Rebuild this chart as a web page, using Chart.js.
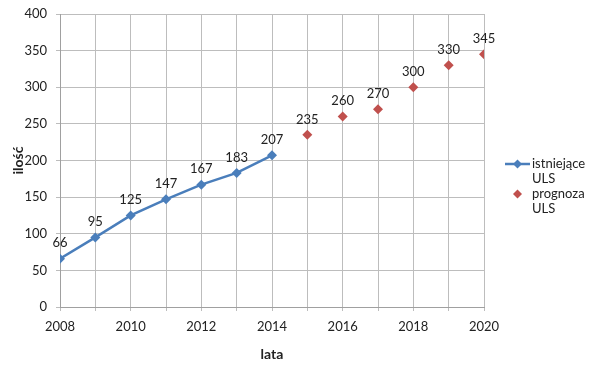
<!DOCTYPE html>
<html>
<head>
<meta charset="utf-8">
<script src="https://cdn.jsdelivr.net/npm/chart.js@4/dist/chart.umd.min.js"></script>
<style>
  html, body { margin: 0; padding: 0; background: #fff; }
  #wrap { width: 606px; height: 367px; position: relative; }
</style>
</head>
<body>
<div id="wrap"><canvas id="chart"></canvas></div>
<script>
// data
const yearsActual = [2008, 2009, 2010, 2011, 2012, 2013, 2014];
const valuesActual = [66, 95, 125, 147, 167, 183, 207];
const yearsForecast = [2015, 2016, 2017, 2018, 2019, 2020];
const valuesForecast = [235, 260, 270, 300, 330, 345];
const seriesNames = [['istniejące', 'ULS'], ['prognoza', 'ULS']];

const FONT = "Lato, 'Liberation Sans', sans-serif";
const BLUE = '#4a7ebb';
const RED = '#c0504d';

const valueLabels = {
    id: 'valueLabels',
    afterDatasetsDraw(chart) {
        const c = chart.ctx;
        c.save();
        c.font = '13px ' + FONT;
        c.fillStyle = '#222';
        c.textAlign = 'center';
        c.textBaseline = 'bottom';
        chart.data.datasets.forEach((ds, i) => {
            chart.getDatasetMeta(i).data.forEach((pt, j) => {
                c.fillText(ds.data[j].y, pt.x, pt.y - 9);
            });
        });
        c.restore();
    }
};

const sideLegend = {
    id: 'sideLegend',
    afterDraw(chart) {
        const c = chart.ctx;
        c.save();
        c.font = '13px ' + FONT;
        c.textBaseline = 'middle';
        const x0 = 505, tx = 532;
        c.strokeStyle = BLUE;
        c.lineWidth = 2.5;
        c.beginPath(); c.moveTo(x0, 164); c.lineTo(x0 + 25, 164); c.stroke();
        const diamond = (cx, cy, r, col) => {
            c.fillStyle = col;
            c.beginPath();
            c.moveTo(cx, cy - r); c.lineTo(cx + r, cy); c.lineTo(cx, cy + r); c.lineTo(cx - r, cy);
            c.closePath(); c.fill();
        };
        diamond(x0 + 12.5, 164, 4.5, BLUE);
        diamond(x0 + 12.5, 194, 4.5, RED);
        c.fillStyle = '#222';
        c.fillText(seriesNames[0][0], tx, 164);
        c.fillText(seriesNames[0][1], tx, 179);
        c.fillText(seriesNames[1][0], tx, 194);
        c.fillText(seriesNames[1][1], tx, 209);
        c.restore();
    }
};

const gridColor = '#bdbdbd';

new Chart(document.getElementById('chart'), {
    type: 'line',
    data: {
        datasets: [{
            label: seriesNames[0].join(' '),
            data: yearsActual.map((x, i) => ({ x: x, y: valuesActual[i] })),
            borderColor: BLUE,
            backgroundColor: BLUE,
            borderWidth: 2.5,
            pointStyle: 'rectRot',
            pointRadius: 5,
            pointBorderWidth: 0,
            tension: 0
        }, {
            label: seriesNames[1].join(' '),
            data: yearsForecast.map((x, i) => ({ x: x, y: valuesForecast[i] })),
            borderColor: RED,
            backgroundColor: RED,
            showLine: false,
            pointStyle: 'rectRot',
            pointRadius: 5,
            pointBorderWidth: 0
        }]
    },
    options: {
        responsive: true,
        maintainAspectRatio: false,
        animation: false,
        layout: { padding: { top: 14, right: 122, left: 0, bottom: 0 } },
        plugins: {
            legend: { display: false },
            tooltip: { enabled: false }
        },
        scales: {
            x: {
                type: 'linear',
                min: 2008,
                max: 2020,
                afterFit: s => { s.height = 60; },
                grid: { color: gridColor, tickLength: 4 },
                border: { color: '#a0a0a0' },
                ticks: {
                    stepSize: 1,
                    autoSkip: false,
                    maxRotation: 0,
                    color: '#222',
                    font: { family: FONT, size: 13 },
                    padding: 8,
                    callback: v => (v % 2 === 0 ? String(v) : '')
                },
                title: {
                    display: true,
                    text: 'lata',
                    color: '#222',
                    font: { family: FONT, size: 14, weight: 'bold' },
                    padding: { top: 12 }
                }
            },
            y: {
                min: 0,
                max: 400,
                afterFit: s => { s.width = 60; s.paddingTop = 0; s.paddingBottom = 0; },
                grid: { color: gridColor, tickLength: 4 },
                border: { color: '#a0a0a0' },
                ticks: {
                    stepSize: 50,
                    color: '#222',
                    font: { family: FONT, size: 13 },
                    padding: 9
                },
                title: {
                    display: true,
                    text: 'ilość',
                    color: '#222',
                    font: { family: FONT, size: 14, weight: 'bold' },
                    padding: { top: 10, bottom: 6 }
                }
            }
        }
    },
    plugins: [valueLabels, sideLegend]
});
</script>
</body>
</html>
